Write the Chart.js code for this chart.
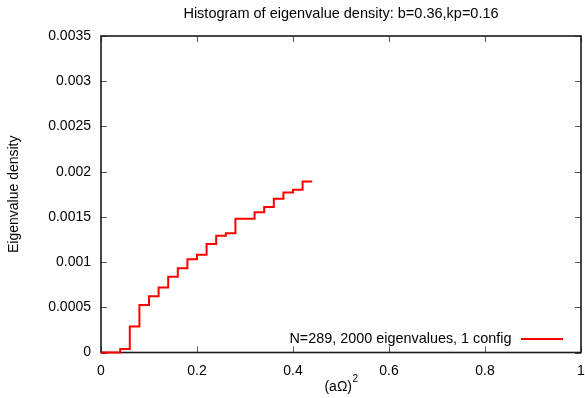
<!DOCTYPE html>
<html>
<head>
<meta charset="utf-8">
<script src="https://cdn.jsdelivr.net/npm/chart.js@4/dist/chart.umd.min.js"></script>
<style>
html,body{margin:0;padding:0;background:#fff;}
#wrap{width:585px;height:398px;position:relative;}
</style>
</head>
<body>
<div id="wrap"><canvas id="c" width="585" height="398"></canvas></div>
<script>
// Bin start positions (aΩ)^2 and eigenvalue density per bin (step plot)
const binStarts = [0.00, 0.02, 0.04, 0.06, 0.08, 0.10, 0.12, 0.14, 0.16, 0.18, 0.20,
                   0.22, 0.24, 0.26, 0.28, 0.30, 0.32, 0.34, 0.36, 0.38, 0.40, 0.42, 0.44];
const density   = [0, 0, 0.00004, 0.000287, 0.000526, 0.000622, 0.000718, 0.000839, 0.000931,
                   0.00103, 0.00108, 0.0012, 0.00129, 0.00132, 0.00148, 0.00148, 0.00155,
                   0.00161, 0.0017, 0.00177, 0.0018, 0.00189, 0.00189];
const xTicks = [0, 0.2, 0.4, 0.6, 0.8, 1];
const yTicks = [0, 0.0005, 0.001, 0.0015, 0.002, 0.0025, 0.003, 0.0035];
const titleText = 'Histogram of eigenvalue density: b=0.36,kp=0.16';
const seriesLabel = 'N=289, 2000 eigenvalues, 1 config';
const xLabel = '(aΩ)';
const xLabelSup = '2';
const yLabel = 'Eigenvalue density';

const FONT = '"Liberation Sans", Arial, Helvetica, sans-serif';

const gnuplotDeco = {
  id: 'gnuplotDeco',
  beforeDatasetsDraw(chart) {
    const ctx = chart.ctx;
    const a = chart.chartArea;
    const xs = chart.scales.x, ys = chart.scales.y;
    ctx.save();
    ctx.strokeStyle = '#555';
    ctx.lineWidth = 1;
    const L = 6;
    ctx.beginPath();
    xTicks.forEach(v => {
      const px = Math.round(xs.getPixelForValue(v)) + 0.5;
      ctx.moveTo(px, a.bottom); ctx.lineTo(px, a.bottom - L);
      ctx.moveTo(px, a.top); ctx.lineTo(px, a.top + L);
    });
    yTicks.forEach(v => {
      const py = Math.round(ys.getPixelForValue(v)) + 0.5;
      ctx.moveTo(a.left, py); ctx.lineTo(a.left + L, py);
      ctx.moveTo(a.right, py); ctx.lineTo(a.right - L, py);
    });
    ctx.stroke();
    ctx.strokeStyle = '#1a1a1a';
    ctx.lineWidth = 1.6;
    ctx.strokeRect(a.left, a.top, a.right - a.left, a.bottom - a.top);
    ctx.restore();
  },
  afterDraw(chart) {
    const ctx = chart.ctx;
    const a = chart.chartArea;
    const ds = chart.data.datasets[0];
    const cx = (a.left + a.right) / 2;
    ctx.save();
    ctx.fillStyle = '#000';
    ctx.font = '14.5px ' + FONT;
    ctx.textAlign = 'center';
    ctx.textBaseline = 'middle';
    ctx.fillText(titleText, cx, 14);
    ctx.font = '14px ' + FONT;
    const w1 = ctx.measureText(xLabel).width;
    ctx.font = '10px ' + FONT;
    const w2 = ctx.measureText(xLabelSup).width;
    const x0 = cx - (w1 + w2) / 2;
    ctx.textAlign = 'left';
    ctx.font = '14px ' + FONT;
    ctx.fillText(xLabel, x0, 387);
    ctx.font = '10px ' + FONT;
    ctx.fillText(xLabelSup, x0 + w1 + 0.5, 379);
    ctx.save();
    ctx.translate(14, (a.top + a.bottom) / 2);
    ctx.rotate(-Math.PI / 2);
    ctx.textAlign = 'center';
    ctx.font = '14px ' + FONT;
    ctx.fillText(yLabel, 0, 0);
    ctx.restore();
    ctx.font = '14.4px ' + FONT;
    ctx.textAlign = 'right';
    ctx.fillText(seriesLabel, 511.5, 339);
    ctx.strokeStyle = ds.borderColor;
    ctx.lineWidth = ds.borderWidth;
    ctx.beginPath();
    ctx.moveTo(521, 339); ctx.lineTo(563, 339);
    ctx.stroke();
    ctx.restore();
  }
};

new Chart(document.getElementById('c'), {
  type: 'line',
  data: {
    datasets: [{
      label: seriesLabel,
      data: binStarts.map((x, i) => ({x: x, y: density[i]})),
      borderColor: '#ff0000',
      borderWidth: 2,
      pointRadius: 0,
      fill: false,
      stepped: 'before',
      clip: 4
    }]
  },
  options: {
    responsive: false,
    animation: false,
    devicePixelRatio: 1,
    layout: { padding: { left: 0, right: 4, top: 36, bottom: 0 } },
    plugins: { legend: { display: false }, tooltip: { enabled: false }, title: { display: false } },
    scales: {
      x: {
        type: 'linear', min: 0, max: 1,
        grid: { display: false, drawTicks: false },
        border: { display: false },
        afterBuildTicks: s => { s.ticks = xTicks.map(v => ({value: v})); },
        ticks: {
          color: '#000', padding: 10, maxRotation: 0,
          font: { family: FONT, size: 14 },
          callback: v => String(+(+v).toFixed(4))
        },
        afterFit: s => { s.height = 45.5; s.paddingLeft = 0; s.paddingRight = 0; }
      },
      y: {
        type: 'linear', min: 0, max: 0.0035,
        grid: { display: false, drawTicks: false },
        border: { display: false },
        afterBuildTicks: s => { s.ticks = yTicks.map(v => ({value: v})); },
        ticks: {
          color: '#000', padding: 10,
          font: { family: FONT, size: 14 },
          callback: v => String(+(+v).toFixed(4))
        },
        afterFit: s => { s.width = 101; s.paddingTop = 0; s.paddingBottom = 0; }
      }
    }
  },
  plugins: [gnuplotDeco]
});
</script>
</body>
</html>
